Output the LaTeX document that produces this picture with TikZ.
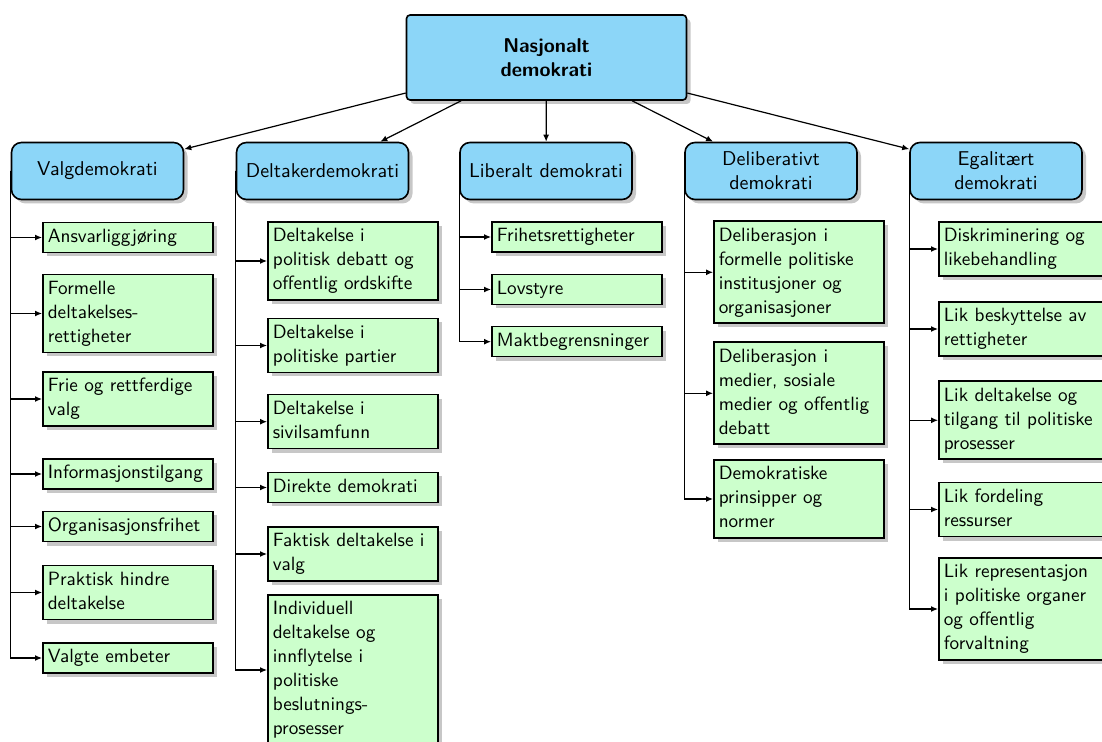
\documentclass[tikz,border=0pt]{standalone}
\usetikzlibrary{shadows,arrows.meta}
\definecolor{hdrblue}{RGB}{140,214,248}
\definecolor{leafgreen}{RGB}{204,255,204}
\begin{document}
\begin{tikzpicture}[x=0.5pt,y=-0.5pt,
  boxshadow/.style={drop shadow={shadow xshift=2pt,shadow yshift=-2pt,fill=black,opacity=0.22}},
  rootbox/.style={draw=black,line width=0.8pt,fill=hdrblue,rounded corners=1.8pt,
    minimum width=140pt,minimum height=42.5pt,font=\sffamily\bfseries,align=center,boxshadow},
  hdrbox/.style={draw=black,line width=0.8pt,fill=hdrblue,rounded corners=5pt,
    minimum width=86pt,minimum height=28.5pt,font=\sffamily,align=center,inner sep=2pt,boxshadow},
  leafbox/.style={draw=black,line width=0.8pt,fill=leafgreen,text width=80pt,
    inner xsep=2.5pt,inner ysep=1.5pt,font=\sffamily\fontsize{9.6}{12}\selectfont,align=left,anchor=west,
    execute at begin node=\strut,execute at end node=\strut,boxshadow},
  conn/.style={line width=0.6pt,-{Latex[length=3.5pt,width=3pt]}}]
\useasboundingbox (0,0) rectangle (1102,742);
\clip (0,0) rectangle (1102,742);

% root
\node[rootbox] (root) at (546.5,57.5) {Nasjonalt\\demokrati};

% headers
\node[hdrbox] (valg)  at (97.5,171)  {Valgdemokrati};
\node[hdrbox] (delt)  at (322.5,171) {Deltakerdemokrati};
\node[hdrbox] (lib)   at (546,171)   {Liberalt demokrati};
\node[hdrbox] (delib) at (771,171)   {Deliberativt\\demokrati};
\node[hdrbox] (egal)  at (996,171)   {Egalitært\\demokrati};

% Valgdemokrati leaves
\node[leafbox] (v1) at (42,237.5) {Ansvarliggjøring};
\node[leafbox] (v2) at (42,313.5) {Formelle\\deltakelses-\\rettigheter};
\node[leafbox] (v3) at (42,399)   {Frie og rettferdige\\valg};
\node[leafbox] (v4) at (42,474)   {Informasjonstilgang};
\node[leafbox] (v5) at (42,526.5) {Organisasjonsfrihet};
\node[leafbox] (v6) at (42,592.5) {Praktisk hindre\\deltakelse};
\node[leafbox] (v7) at (42,658)   {Valgte embeter};

% Deltakerdemokrati leaves
\node[leafbox] (d1) at (267,261)   {Deltakelse i\\politisk debatt og\\offentlig ordskifte};
\node[leafbox] (d2) at (267,345.5) {Deltakelse i\\politiske partier};
\node[leafbox] (d3) at (267,421.7) {Deltakelse i\\sivilsamfunn};
\node[leafbox] (d4) at (267,487.5) {Direkte demokrati};
\node[leafbox] (d5) at (267,554)   {Faktisk deltakelse i\\valg};
\node[leafbox] (d6) at (267,670)   {Individuell\\deltakelse og\\innflytelse i\\politiske\\beslutnings-\\prosesser};

% Liberalt demokrati leaves
\node[leafbox] (l1) at (491,237)   {Frihetsrettigheter};
\node[leafbox] (l2) at (491,289.5) {Lovstyre};
\node[leafbox] (l3) at (491,341.7) {Maktbegrensninger};

% Deliberativt demokrati leaves
\node[leafbox] (b1) at (713,272.3) {Deliberasjon i\\formelle politiske\\institusjoner og\\organisasjoner};
\node[leafbox] (b2) at (713,393.3) {Deliberasjon i\\medier, sosiale\\medier og offentlig\\debatt};
\node[leafbox] (b3) at (713,499)   {Demokratiske\\prinsipper og\\normer};

% Egalitaert demokrati leaves
\node[leafbox] (e1) at (938,249)   {Diskriminering og\\likebehandling};
\node[leafbox] (e2) at (938,329)   {Lik beskyttelse av\\rettigheter};
\node[leafbox] (e3) at (938,420.3) {Lik deltakelse og\\tilgang til politiske\\prosesser};
\node[leafbox] (e4) at (938,509.5) {Lik fordeling\\ressurser};
\node[leafbox] (e5) at (938,609)   {Lik representasjon\\i politiske organer\\og offentlig\\forvaltning};

% root connectors
\foreach \h in {valg,delt,lib,delib,egal}
  \draw[conn] (root) -- (\h);

% leaf connectors
\foreach \c in {v1,v2,v3,v4,v5,v6,v7} \draw[conn] (valg.west) |- (\c.west);
\foreach \c in {d1,d2,d3,d4,d5,d6} \draw[conn] (delt.west) |- (\c.west);
\foreach \c in {l1,l2,l3} \draw[conn] (lib.west) |- (\c.west);
\foreach \c in {b1,b2,b3} \draw[conn] (delib.west) |- (\c.west);
\foreach \c in {e1,e2,e3,e4,e5} \draw[conn] (egal.west) |- (\c.west);
\end{tikzpicture}
\end{document}
